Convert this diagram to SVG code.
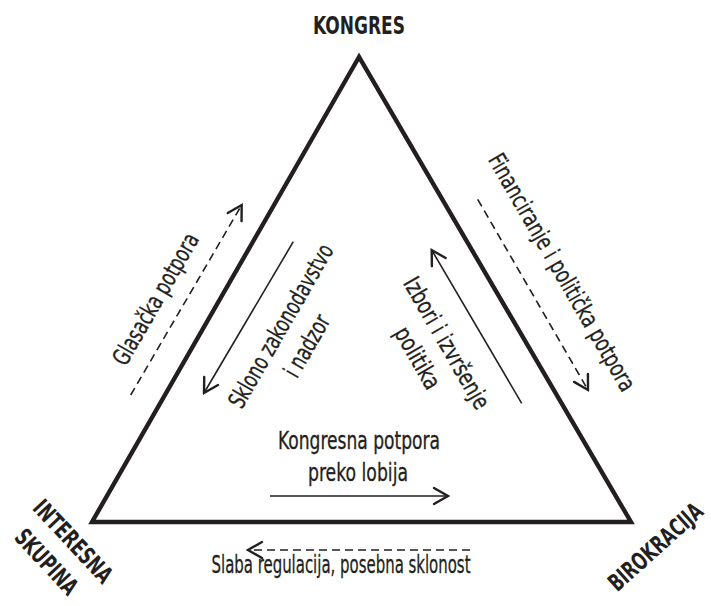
<svg xmlns="http://www.w3.org/2000/svg" width="711" height="606" viewBox="0 0 711 606">
<style>
  .t { font-family: "Liberation Sans Narrow", "DejaVu Sans Condensed", "Liberation Sans", sans-serif; font-size: 24px; fill: #231f20; stroke: #231f20; stroke-width: 0.3; }
  .b { font-family: "Liberation Sans Narrow", "DejaVu Sans Condensed", "Liberation Sans", sans-serif; font-size: 24px; font-weight: bold; fill: #231f20; }
  .c { font-size: 18px; }
  .edge { fill: none; stroke: #231f20; stroke-width: 4.4; stroke-linejoin: miter; stroke-miterlimit: 10; }
  .solid { fill: none; stroke: #231f20; stroke-width: 1.6; }
  .dash { fill: none; stroke: #231f20; stroke-width: 1.6; stroke-dasharray: 8 5; }
</style>
<defs>
  <marker id="arr" viewBox="-18 -10 20 20" markerWidth="20" markerHeight="20" refX="0" refY="0" orient="auto" markerUnits="userSpaceOnUse">
    <path d="M-14,-8 L0,0 L-14,8" fill="none" stroke="#231f20" stroke-width="2.4" stroke-linecap="round" stroke-linejoin="miter"/>
  </marker>
</defs>
<rect width="711" height="606" fill="#ffffff"/>

<g id="triangle">
  <polygon class="edge" points="359,57 92,522 631,522"/>
</g>

<g id="kongres">
  <text class="b" x="359" y="34" font-size="25" text-anchor="middle" textLength="92" lengthAdjust="spacingAndGlyphs">KONGRES</text>
</g>
<g id="interesna-skupina">
  <text class="b c" transform="translate(67,547) rotate(47) scale(1,1.333)" text-anchor="middle" textLength="104" lengthAdjust="spacingAndGlyphs">INTERESNA</text>
  <text class="b c" transform="translate(40.5,567.5) rotate(47) scale(1,1.333)" text-anchor="middle" textLength="80" lengthAdjust="spacingAndGlyphs">SKUPINA</text>
</g>
<g id="birokracija">
  <text class="b c" transform="translate(661,553) rotate(-42) scale(1,1.333)" text-anchor="middle" textLength="118" lengthAdjust="spacingAndGlyphs">BIROKRACIJA</text>
</g>

<g id="connectors">
  <line class="dash" x1="130.7" y1="395" x2="241.7" y2="205" marker-end="url(#arr)"/>
  <line class="solid" x1="293.3" y1="241.7" x2="204" y2="393" marker-end="url(#arr)"/>
  <line class="dash" x1="477.7" y1="199.3" x2="588" y2="390" marker-end="url(#arr)"/>
  <line class="solid" x1="521.7" y1="403.3" x2="431.7" y2="250" marker-end="url(#arr)"/>
  <line class="solid" x1="270" y1="496" x2="448" y2="496" marker-end="url(#arr)"/>
  <line class="dash" x1="470" y1="550" x2="248" y2="550" marker-end="url(#arr)"/>
</g>

<g id="labels">
  <text class="t" transform="translate(162.7,303.2) rotate(-60)" text-anchor="middle" textLength="148" lengthAdjust="spacingAndGlyphs">Glasačka potpora</text>
  <text class="t" transform="translate(288,330) rotate(-60)" text-anchor="middle" textLength="185" lengthAdjust="spacingAndGlyphs">Sklono zakonodavstvo</text>
  <text class="t" transform="translate(314,350) rotate(-60)" text-anchor="middle" textLength="68" lengthAdjust="spacingAndGlyphs">i nadzor</text>
  <text class="t" transform="translate(555,276.5) rotate(60)" text-anchor="middle" textLength="270" lengthAdjust="spacingAndGlyphs">Financiranje i politička potpora</text>
  <text class="t" transform="translate(439.5,347) rotate(60)" text-anchor="middle" textLength="148" lengthAdjust="spacingAndGlyphs">Izbori i izvršenje</text>
  <text class="t" transform="translate(410.5,362) rotate(60)" text-anchor="middle" textLength="68" lengthAdjust="spacingAndGlyphs">politika</text>
  <text class="t" x="359" y="449" text-anchor="middle" textLength="162" lengthAdjust="spacingAndGlyphs">Kongresna potpora</text>
  <text class="t" x="358" y="481" text-anchor="middle" textLength="100" lengthAdjust="spacingAndGlyphs">preko lobija</text>
  <text class="t" x="341" y="573" text-anchor="middle" textLength="259" lengthAdjust="spacingAndGlyphs">Slaba regulacija, posebna sklonost</text>
</g>
</svg>
